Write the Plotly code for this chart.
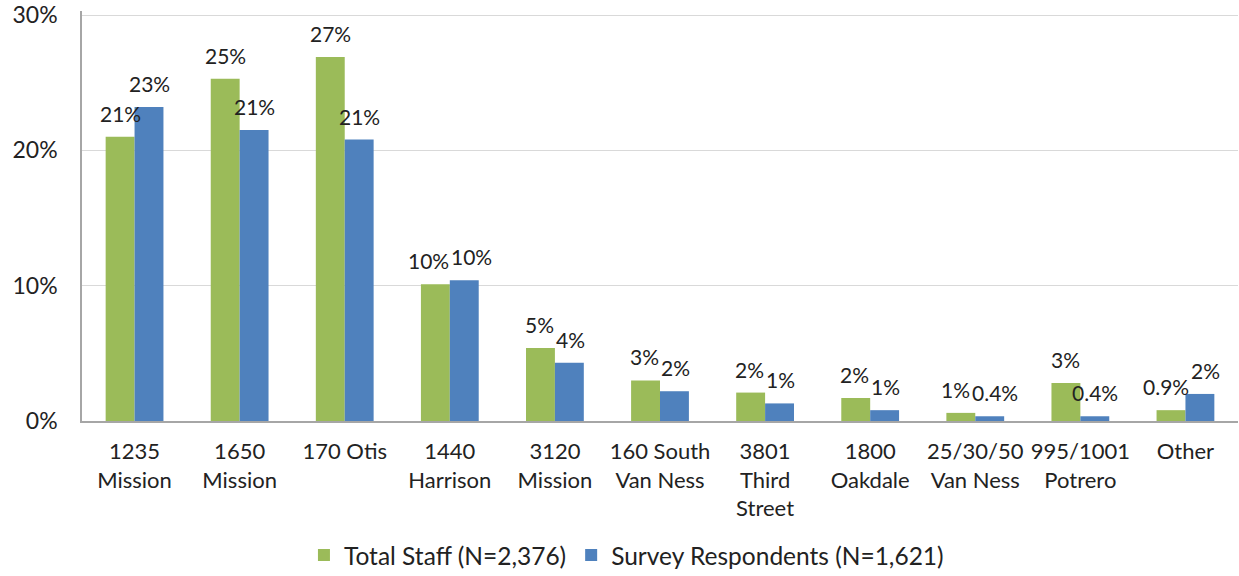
import plotly.graph_objects as go

categories = ["1235<br>Mission", "1650<br>Mission", "170 Otis", "1440<br>Harrison", "3120<br>Mission",
              "160 South<br>Van Ness", "3801<br>Third<br>Street", "1800<br>Oakdale", "25/30/50<br>Van Ness",
              "995/1001<br>Potrero", "Other"]
total_staff = [21.0, 25.3, 26.9, 10.1, 5.4, 3.0, 2.1, 1.7, 0.6, 2.8, 0.8]
total_labels = ["21%", "25%", "27%", "10%", "5%", "3%", "2%", "2%", "1%", "3%", "0.9%"]
respondents = [23.2, 21.5, 20.8, 10.4, 4.3, 2.2, 1.3, 0.8, 0.35, 0.35, 2.0]
resp_labels = ["23%", "21%", "21%", "10%", "4%", "2%", "1%", "1%", "0.4%", "0.4%", "2%"]
yticks = [0, 10, 20, 30]
ytick_text = ["0%", "10%", "20%", "30%"]

FONT = "Lato, 'Open Sans', sans-serif"
GREEN = "#9BBB59"
BLUE = "#4F81BD"

W, H = 1239, 576
ML, MR, MT, MB = 82, 1, 11, 155
BARGAP = 0.45
YMAX = 30.3
LABEL_SIZE = 21

plot_w = W - ML - MR
plot_h = H - MT - MB
cat_w = plot_w / len(categories)
bar_w = cat_w * (1 - BARGAP) / 2
px_per_unit = plot_h / YMAX


def text_width(s, size):
    w = 0
    for ch in s:
        if ch.isdigit():
            w += 0.58
        elif ch == "%":
            w += 0.78
        else:
            w += 0.27
    return w * size


fig = go.Figure()
fig.add_trace(go.Bar(x=categories, y=total_staff, name="Total Staff (N=2,376)",
                     marker=dict(color=GREEN, line=dict(width=0))))
fig.add_trace(go.Bar(x=categories, y=respondents, name="Survey Respondents (N=1,621)",
                     marker=dict(color=BLUE, line=dict(width=0))))

annotations = []
for cat, gv, gl, bv, bl in zip(categories, total_staff, total_labels, respondents, resp_labels):
    extra = 0.0
    if abs(gv - bv) * px_per_unit < LABEL_SIZE:
        need = (text_width(gl, LABEL_SIZE) + text_width(bl, LABEL_SIZE)) / 2 + 2 - bar_w
        extra = max(0.0, need / 2)
    annotations.append(dict(x=cat, y=gv, text=gl, showarrow=False, xanchor="center", yanchor="bottom",
                            xshift=-bar_w / 2 - extra, yshift=9,
                            font=dict(size=LABEL_SIZE, color="#222", family=FONT)))
    annotations.append(dict(x=cat, y=bv, text=bl, showarrow=False, xanchor="center", yanchor="bottom",
                            xshift=bar_w / 2 + extra, yshift=9,
                            font=dict(size=LABEL_SIZE, color="#222", family=FONT)))

fig.update_layout(
    width=W, height=H,
    barmode="group", bargap=BARGAP, bargroupgap=0,
    plot_bgcolor="white", paper_bgcolor="white",
    font=dict(family=FONT, size=21, color="#222"),
    margin=dict(l=ML, r=MR, t=MT, b=MB, autoexpand=False),
    annotations=annotations,
    legend=dict(orientation="h", x=0.192, xanchor="left", y=-0.327, yanchor="middle",
                font=dict(size=24.5), itemsizing="constant"),
    xaxis=dict(showline=True, linecolor="#a6a6a6", linewidth=1.5, tickfont=dict(size=22),
               ticks="", ticklabelstandoff=10, automargin=False),
    yaxis=dict(range=[0, YMAX], tickvals=yticks, ticktext=ytick_text, showgrid=True,
               gridcolor="#d9d9d9", gridwidth=1, showline=True, linecolor="#a6a6a6",
               linewidth=1.5, zeroline=False, tickfont=dict(size=23), ticklabelstandoff=18,
               automargin=False, ticklabeloverflow="allow"),
)
fig.write_html("out.html", config={"displayModeBar": False},
               post_script="document.body.style.margin='0';")
